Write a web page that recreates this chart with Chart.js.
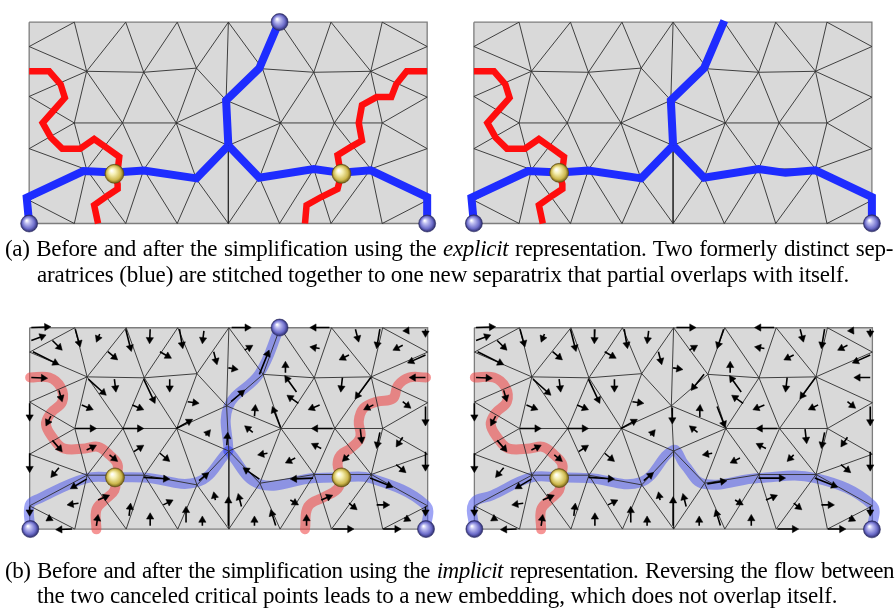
<!DOCTYPE html>
<html>
<head>
<meta charset="utf-8">
<script src="https://cdn.jsdelivr.net/npm/chart.js@4.4.1/dist/chart.umd.min.js"></script>
<style>
body { margin: 0; background: #fff; }
#wrap { position: relative; width: 895px; height: 611px; }
#fig { position: absolute; left: 0; top: 0; }
.cap { position: absolute; font-family: "Liberation Serif", "DejaVu Serif", serif; font-size: 23px; line-height: 23px; letter-spacing: -0.15px; color: #000; white-space: nowrap; }
.just { text-align: justify; text-align-last: justify; }
</style>
</head>
<body>
<div id="wrap">
  <canvas id="fig" width="895" height="611"></canvas>
  <div class="cap just" style="left:5px;top:237px;width:888px;letter-spacing:-0.3px">(a) Before and after the simplification using the <i>explicit</i> representation. Two formerly distinct sep-</div>
  <div class="cap" style="left:37px;top:263px">aratrices (blue) are stitched together to one new separatrix that partial overlaps with itself.</div>
  <div class="cap just" style="left:5px;top:559px;width:889px;letter-spacing:-0.5px">(b) Before and after the simplification using the <i>implicit</i> representation. Reversing the flow between</div>
  <div class="cap" style="left:37px;top:584px">the two canceled critical points leads to a new embedding, which does not overlap itself.</div>
</div>
<script>
// mesh vertices in page pixels
const meshX = [19.5, 65.7, 118.3, 171, 223.3, 275.7, 328.3, 380.7, 426.7,
  19.5, 19.5, 19.5, 19.5,
  426.7, 426.7, 426.7, 426.7,
  19.5, 65.7, 118.3, 171, 223.3, 275.7, 328.3, 380.7, 426.7,
  78.3, 136.7, 190.7, 258.3, 310.7, 369,
  65.7, 115, 170, 276.7, 331.7, 380.7,
  78.3, 136.7, 190.7, 255, 310.7, 369,
  221, 223.3];
const meshY = [12.5, 12.5, 12.5, 12.5, 12.5, 12.5, 12.5, 12.5, 12.5,
  37.7, 89.3, 143.3, 196.7,
  37.7, 90, 143.3, 196.7,
  220.7, 220.7, 220.7, 220.7, 220.7, 220.7, 220.7, 220.7, 220.7,
  63.3, 64.3, 60, 60.7, 64.3, 63.3,
  116.7, 116.7, 116.7, 116.7, 116.7, 116.7,
  165, 165, 175, 173.3, 164.3, 164.3,
  93.3, 140];
const meshEdges = [
  [9,1],[9,26],[1,26],[2,26],[2,27],[3,27],[3,28],[4,28],[26,27],[27,28],[28,44],[4,44],[44,45],[45,21],
  [10,26],[10,32],[26,32],[26,33],[27,33],[27,34],[28,34],[34,44],[32,33],[33,34],[34,45],
  [11,32],[11,38],[32,38],[33,38],[33,39],[34,39],[34,40],[38,39],[39,40],[40,45],
  [12,38],[12,18],[38,18],[38,19],[39,19],[39,20],[40,20],[40,21],
  [4,29],[5,29],[5,30],[6,30],[6,31],[7,31],[7,13],[31,13],[29,30],[30,31],[29,44],[31,14],
  [29,35],[30,35],[30,36],[31,36],[31,37],[37,14],[37,15],[44,35],[45,35],[35,36],[36,37],
  [35,41],[35,42],[36,42],[36,43],[37,43],[43,15],[43,16],[16,24],[41,42],[42,43],[45,41],[41,21],[41,22],[42,22],[42,23],[43,23],[43,24]
];
const frameX = [19.5, 426.7];
const frameY = [12.5, 220.7];
const panelDX = [0, 455, 0.5, 455.5];
const panelDY = [0, 0, 316, 316];

// separatrices, panel (a) coordinates (panel b = +455)
const redLeftTop = [[19.5,63.3],[40,63.3],[51.7,76.7],[56,90.7],[45,103.3],[33.3,116.7],[41.7,131.7],[53.3,143.3],[71.7,143.3],[86,133.3],[100,143.3],[111.7,151.7],[110,166.7],[106.7,169.3],[110,180],[110,185],[100,191.7],[86,201.7],[90,220.7]];
const redRightTop = [[426.7,63.3],[405.7,63.3],[395,76.7],[390,90],[375,90],[360,98.3],[356.7,116.7],[360,135],[348.3,141.7],[335,150],[336.7,160],[339,169.3],[335,185],[318.3,193.3],[303.3,201.7],[301.7,220.7]];
const blueLeftTop = [[19.5,220.7],[17,194],[75,166.5],[107,168],[136.7,166],[190.7,174],[223.3,140]];
const blueUpTop = [[223.3,140],[221,93.3],[255,60],[275.7,11]];
const blueRightTop = [[223.3,140],[255,173.3],[310.7,164.3],[338.3,168.3],[369,165.7],[426.7,193.3],[426.7,220]];

// separatrices, panel (c) coordinates (panel d = +455)
const redLeftBot = [[20.5,380],[40,380],[51.7,390],[53.3,405],[41.7,416.7],[36.7,428.3],[43.3,441.7],[55,453.3],[76.7,453.3],[90,451.7],[101.7,460],[110,470],[108.3,483.3],[106.7,496.7],[96.7,506.7],[88.3,516.7],[88.3,537]];
const redRightBot = [[425.5,380],[408.3,380],[396.7,388.3],[391.7,401.7],[375,405],[361.7,411.7],[356.7,425],[358.3,441.7],[348.3,453.3],[338.3,460],[335,470],[338.3,483.3],[335,495],[321.7,503.3],[305,513.3],[301.7,537]];
const blueLeftBot = [[20.7,536.7],[20,512],[30,505],[78.3,484],[107.3,483.3],[136.7,483.3],[191.7,488],[223.3,456]];
const blueUpBot = [[223.3,456],[223.3,410],[255,376],[275.7,328.3]];
const blueRightBot = [[223.3,456],[255,490],[310.7,484],[339,483.3],[368.3,484],[425,511.7],[425.5,536.7]];
const blueAfterBot = [[20,536.7],[19,510],[38.3,501.7],[78.3,483.3],[106.7,483.3],[136.7,484],[190,488.3],[223.3,455],[235,470],[255,490],[310.7,484],[369,484],[426.7,511.7],[426.7,537]];

// critical points
const sphA = [[19.5,220.7],[275.7,12.3],[426.7,220.7]];
const sphB = [[19.5,220.5],[426.7,220.5]];
const sphC = [[20.7,536.7],[275.7,328.3],[425.5,536.7]];
const sphD = [[20,536.7],[426.7,537]];
const sadA = [[106.7,169.3],[339,169.3]];
const sadB = [[106.7,168.3]];
const sadC = [[107.3,483.3],[339,483.3]];
const sadD = [[106.7,484]];

// flow arrows [x1,y1,x2,y2], panel (c) coordinates
const arrowsShared = [
  [21.7,328.3,41.7,327.5],[21.7,341.7,36.7,336],[43.3,341.7,53.3,351.7],[66.7,330,71.7,348.3],[91.7,335,88.3,343.3],
  [118.3,330,124,353],[143.3,330,142.7,345],[173.3,330,176.7,350],[198.3,331.7,196.7,345],[23.3,353.3,50,366.7],
  [100,353.3,110,361.7],[153.3,353.3,165,360],[208.3,353.3,211.7,366.7],[21.7,380,38.3,380.7],[80,381.7,98.3,398.3],
  [106.7,381.7,108.3,395],[136.7,381.7,148.3,406.7],[163.3,381.7,163.3,395],[50,393.3,53.3,405],[20,406.7,20,425],
  [73.3,408.3,85,413.3],[125,408.3,136.7,413.3],[181.7,405,193.3,406.7],[41.7,420,36.7,430],[66.7,432.7,88.3,432.7],
  [115,432.7,136.7,432.7],[170,432.7,186.7,423.3],[200,440,205,434],[20,458.3,20,478.3],[43.3,445,53.3,456.7],
  [78.3,455,88.3,450],[101.7,460,110,466.7],[126.7,456.7,136.7,450],[153.3,458.3,163.3,466.7],[50,473.3,41.7,483.3],
  [78.3,485,61.7,495],[136.7,483.3,163.3,485],[193.3,486.7,203.3,478.3],[20,513.3,20,523.3],[70,510,58.3,511.7],
  [41.7,525,36.7,528.3],[63.3,536.7,46.7,537.3],[90,506.7,101.7,501.7],[88.3,533.3,90,521.7],[121.7,523,123.3,510],
  [156.7,511.7,166.7,506.7],[143.3,533.3,143.3,520],[180,530,180,513.3],[196.7,533.3,196.7,523.3],[210,506.7,208.3,498.3],
  [223.3,533.3,223.3,503.3],
  [226.7,328.3,246.7,328.3],[326.7,328.3,306.7,328.3],[353.3,330,356.7,343.3],[378.3,330,375,350],[405,330,408.3,335],
  [425,330,425,338.3],[240,351.7,248.3,346.7],[316.7,350,306.7,348.3],[346.7,356.7,336.7,361.7],[401.7,346.7,391.7,351.7],
  [425,356.7,406.7,365],[223.3,370,233.3,371.7],[281.7,375,281.7,363.3],[293,395,281,378],[340,380,338.3,395],
  [369,380,353,402],[425,380,408.3,380],[250,420,251,408],[295,406.7,283.3,398.3],[316.7,408.3,305,413.3],
  [371.7,408.3,361.7,413.3],[401.7,405,410,411.7],[425,410,425,430],[248.3,436.7,240,430],[330,432.7,308.3,432.7],
  [318.3,453.3,308.3,448.3],[358.3,433.3,360,448.3],[378.3,436.7,375,453.3],[401.7,441.7,395,451.7],[425,456.7,425,476.7],
  [263.3,458.3,253.3,460],[291.7,463.3,281.7,468.3],[346.7,460,340,466.7],[395,470,405,478.3],[368.3,484,391.7,493.3],
  [425,513.3,425,523.3],[236.7,513.3,233.3,500],[250,533.3,250,523.3],[271.7,533,266.7,516.7],[286.7,506.7,295,511.7],
  [303.3,533.3,303.3,521.7],[318.3,506.7,330,501.7],[346.7,510,355,516.7],[330,536.7,351.7,536.7],[375,511.7,388.3,511.7],
  [381.7,536.7,400,536.7],[403.3,525,410,528.3]
];
const arrowsOnlyC = [[221.7,450,222.7,436.7],[226,405,240,393],[255,376.7,265,351.7],[255,485,238.3,473.3],[310,484,286.7,485],[276.7,431.7,268.3,410]];
const arrowsOnlyD = [[222.5,411,222.5,428],[255,376.7,241.7,393.3],[275,330,268.3,350],[258.3,490,278.3,486.7],[310.7,484,338.3,484],[268.3,410,276.7,431.7]];

const SHIFT = 455;

function toPts(list, dx, dy) {
  return list.map(p => ({x: p[0] + dx, y: p[1] + (dy || 0)}));
}

function pathDs(list, dx, color, width, order, tension) {
  return {
    data: toPts(list, dx), showLine: true, borderColor: color, borderWidth: width,
    pointRadius: 0, tension: tension, order: order, fill: false,
    borderCapStyle: tension ? 'round' : 'butt', borderJoinStyle: tension ? 'round' : 'miter'
  };
}

function ballColor(kind) {
  const fallback = kind === 'saddle' ? '#e6da88' : '#8888dd';
  return function(c) {
    if (c.type !== 'data' || !c.parsed) return fallback;
    const ch = c.chart, g = ch.ctx;
    const px = ch.scales.x.getPixelForValue(c.parsed.x);
    const py = ch.scales.y.getPixelForValue(c.parsed.y);
    if (!Number.isFinite(px) || !Number.isFinite(py)) return fallback;
    const r = kind === 'saddle' ? 9.5 : 8.5;
    const grad = g.createRadialGradient(px - r * 0.3, py - r * 0.35, r * 0.05, px, py, r);
    if (kind === 'saddle') {
      grad.addColorStop(0, '#ffffff');
      grad.addColorStop(0.3, '#f6f0b4');
      grad.addColorStop(0.75, '#cdb84e');
      grad.addColorStop(1, '#6d5a12');
    } else {
      grad.addColorStop(0, '#ffffff');
      grad.addColorStop(0.25, '#c0c0f2');
      grad.addColorStop(0.7, '#6e6ecb');
      grad.addColorStop(1, '#2a2a6a');
    }
    return grad;
  };
}

function ballDs(list, dx, kind) {
  return {
    data: toPts(list, dx), showLine: false, pointStyle: 'circle',
    pointRadius: kind === 'saddle' ? 9.5 : 8.5,
    pointBackgroundColor: ballColor(kind),
    pointBorderColor: kind === 'saddle' ? '#5a4a10' : '#2a2a60', pointBorderWidth: 0.6,
    order: 50, clip: false
  };
}

function arrowDs(list, dx) {
  const shafts = [], heads = [], rots = [];
  const hr = 4.2;
  list.forEach(a => {
    const ux = a[2] - a[0], uy = a[3] - a[1];
    const len = Math.hypot(ux, uy);
    const cx = a[2] - ux / len * hr, cy = a[3] - uy / len * hr;
    shafts.push({x: a[0] + dx, y: a[1]}, {x: cx + dx, y: cy}, {x: null, y: null});
    heads.push({x: cx + dx, y: cy});
    rots.push(Math.atan2(ux, -uy) * 180 / Math.PI);
  });
  return [
    {data: shafts, showLine: true, borderColor: '#000', borderWidth: 1.6, pointRadius: 0, spanGaps: false, order: 60},
    {data: heads, showLine: false, pointStyle: 'triangle', pointRadius: hr, pointRotation: rots,
     pointBackgroundColor: '#000', pointBorderColor: '#000', pointBorderWidth: 0.5, order: 55}
  ];
}

const datasets = [];
for (let p = 0; p < 4; p++) {
  const dx = panelDX[p], dy = panelDY[p];
  const x0 = frameX[0] + dx, x1 = frameX[1] + dx, y0 = frameY[0] + dy, y1 = frameY[1] + dy;
  datasets.push({
    data: [{x: x0, y: y0}, {x: x1, y: y0}, {x: x1, y: y1}, {x: x0, y: y1}, {x: x0, y: y0}],
    showLine: true, fill: 'shape', backgroundColor: '#d9d9d9', borderColor: '#7d7d7d',
    borderWidth: 1.3, pointRadius: 0, tension: 0, order: 100
  });
  const mesh = [];
  meshEdges.forEach(e => {
    mesh.push({x: meshX[e[0]] + dx, y: meshY[e[0]] + dy}, {x: meshX[e[1]] + dx, y: meshY[e[1]] + dy}, {x: null, y: null});
  });
  datasets.push({data: mesh, showLine: true, borderColor: '#2e2e2e', borderWidth: 0.9, pointRadius: 0, spanGaps: false, order: 80});
}

const RED = '#ff0d0d', BLUE = '#1e2cff';
const RED_T = 'rgba(238,62,62,0.55)', BLUE_T = 'rgba(70,82,236,0.52)';

// (a) before, explicit
datasets.push(pathDs(redLeftTop, 0, RED, 6.5, 70, 0), pathDs(redRightTop, 0, RED, 6.5, 70, 0));
datasets.push(pathDs(blueLeftTop, 0, BLUE, 8, 69, 0), pathDs(blueUpTop, 0, BLUE, 8, 69, 0), pathDs(blueRightTop, 0, BLUE, 8, 69, 0));
datasets.push(ballDs(sphA, 0, 'sphere'), ballDs(sadA, 0, 'saddle'));
// (a) after
datasets.push(pathDs(redLeftTop, SHIFT, RED, 6.5, 70, 0));
datasets.push(pathDs(blueLeftTop, SHIFT, BLUE, 8, 69, 0), pathDs(blueUpTop, SHIFT, BLUE, 8, 69, 0), pathDs(blueRightTop, SHIFT, BLUE, 8, 69, 0));
datasets.push(ballDs(sphB, SHIFT, 'sphere'), ballDs(sadB, SHIFT, 'saddle'));
// (b) before, implicit
datasets.push(pathDs(redLeftBot, 0, RED_T, 10, 90, 0.4), pathDs(redRightBot, 0, RED_T, 10, 90, 0.4));
datasets.push(pathDs(blueLeftBot, 0, BLUE_T, 10, 90, 0.4), pathDs(blueUpBot, 0, BLUE_T, 10, 90, 0.4), pathDs(blueRightBot, 0, BLUE_T, 10, 90, 0.4));
datasets.push(...arrowDs(arrowsShared, 0), ...arrowDs(arrowsOnlyC, 0));
datasets.push(ballDs(sphC, 0, 'sphere'), ballDs(sadC, 0, 'saddle'));
// (b) after
datasets.push(pathDs(redLeftBot, SHIFT, RED_T, 10, 90, 0.4));
datasets.push(pathDs(blueAfterBot, SHIFT, BLUE_T, 10, 90, 0.4));
datasets.push(...arrowDs(arrowsShared, SHIFT), ...arrowDs(arrowsOnlyD, SHIFT));
datasets.push(ballDs(sphD, SHIFT, 'sphere'), ballDs(sadD, SHIFT, 'saddle'));

new Chart(document.getElementById('fig'), {
  type: 'scatter',
  data: {datasets: datasets},
  options: {
    responsive: false,
    animation: false,
    devicePixelRatio: 1,
    events: [],
    layout: {padding: 0},
    plugins: {legend: {display: false}, tooltip: {enabled: false}},
    scales: {
      x: {type: 'linear', min: 0, max: 895, display: false},
      y: {type: 'linear', min: 0, max: 611, reverse: true, display: false}
    }
  }
});
</script>
</body>
</html>
